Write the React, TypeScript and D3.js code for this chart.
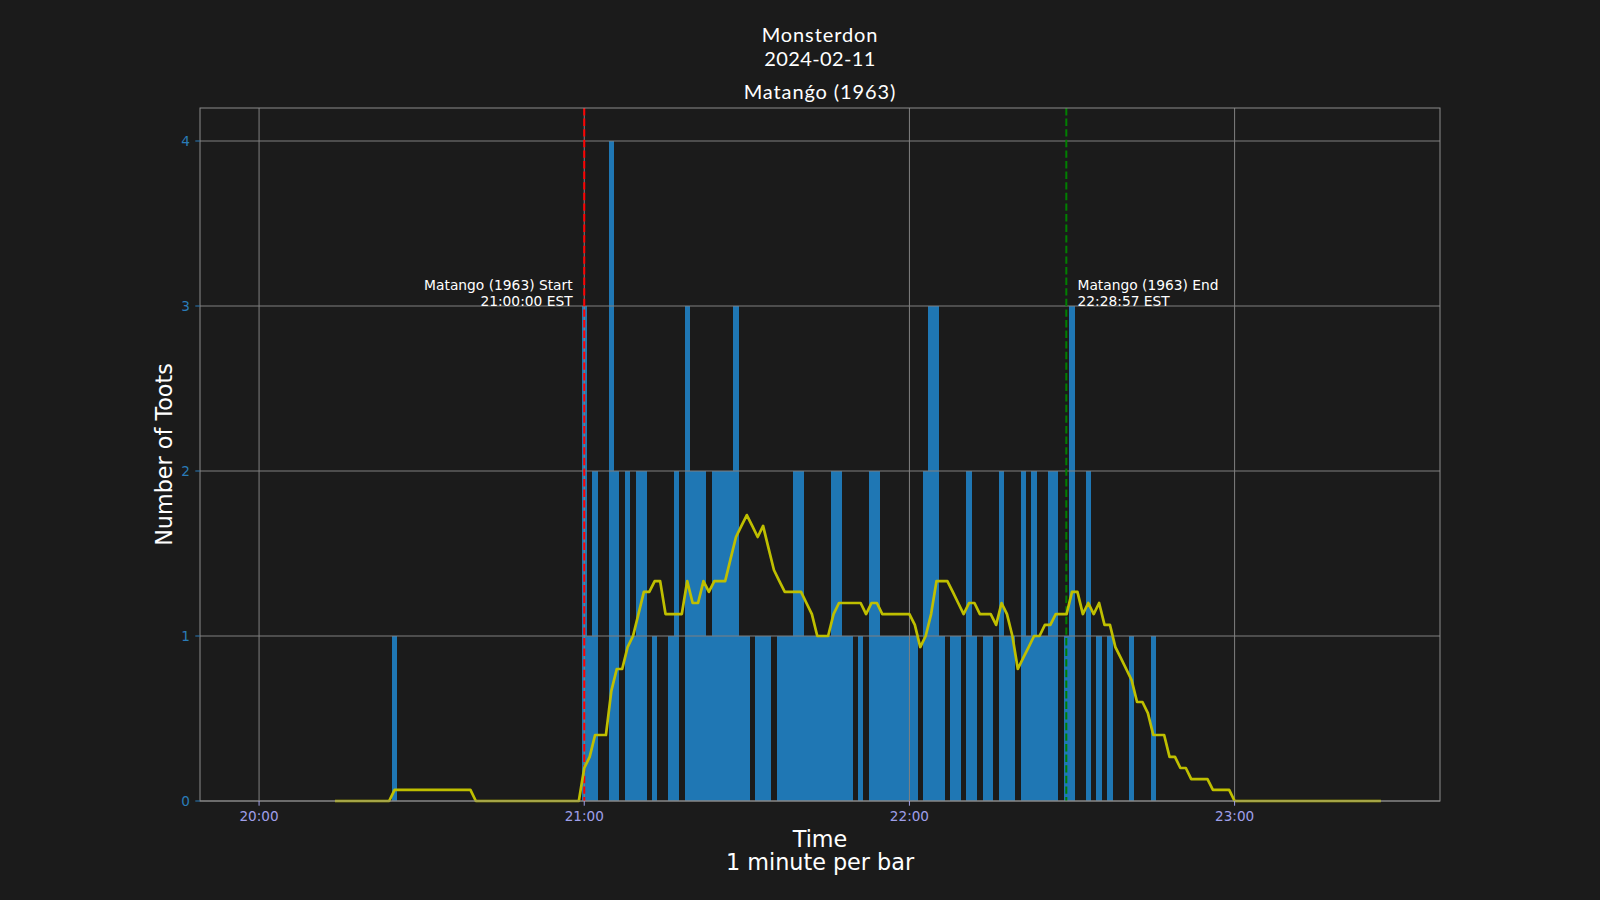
import React from "react";
import * as d3 from "d3";

// ---------- data ----------
const titleLines = ["Monsterdon", "2024-02-11", "Matanǵo (1963)"];

// minutes with at least one toot (1 minute per bar)
const tootTimes = [
  "20:25",
  "21:00", "21:01", "21:02", "21:05", "21:06", "21:08", "21:09", "21:10", "21:11", "21:13",
  "21:16", "21:17", "21:19", "21:20", "21:21", "21:22", "21:23", "21:24", "21:25", "21:26",
  "21:27", "21:28", "21:29", "21:30", "21:32", "21:33", "21:34", "21:36", "21:37", "21:38",
  "21:39", "21:40", "21:41", "21:42", "21:43", "21:44", "21:45", "21:46", "21:47", "21:48",
  "21:49", "21:51", "21:53", "21:54", "21:55", "21:56", "21:57", "21:58", "21:59", "22:00",
  "22:01", "22:03", "22:04", "22:05", "22:06", "22:08", "22:09", "22:11", "22:12", "22:14",
  "22:15", "22:17", "22:18", "22:19", "22:21", "22:22", "22:23", "22:24", "22:25", "22:26",
  "22:27", "22:29", "22:30", "22:33", "22:35", "22:37", "22:41", "22:45",
];
const tootCounts = [
  1,
  3, 1, 2, 4, 2, 2, 1, 2, 2, 1,
  1, 2, 3, 2, 2, 2, 1, 2, 2, 2,
  2, 3, 1, 1, 1, 1, 1, 1, 1, 1,
  2, 2, 1, 1, 1, 1, 1, 2, 2, 1,
  1, 1, 2, 2, 1, 1, 1, 1, 1, 1,
  1, 2, 3, 3, 1, 1, 1, 2, 1, 1,
  1, 2, 1, 1, 2, 1, 2, 1, 1, 2,
  2, 1, 3, 2, 1, 1, 1, 1,
];

// 15-minute moving average, one value per minute starting at 20:14
const avgStart = "20:14";
const rollingAvg = [
  0, 0, 0, 0, 0, 0, 0, 0, 0, 0, 0,
  0.067, 0.067, 0.067, 0.067, 0.067, 0.067, 0.067, 0.067, 0.067, 0.067, 0.067, 0.067, 0.067, 0.067, 0.067,
  0, 0, 0, 0, 0, 0, 0, 0, 0, 0, 0, 0, 0, 0, 0, 0, 0, 0, 0, 0,
  0.2, 0.267, 0.4, 0.4, 0.4, 0.667, 0.8, 0.8, 0.933, 1.0,
  1.133, 1.267, 1.267, 1.333, 1.333, 1.133, 1.133, 1.133, 1.133, 1.333,
  1.2, 1.2, 1.333, 1.267, 1.333, 1.333, 1.333, 1.467, 1.6, 1.667,
  1.733, 1.667, 1.6, 1.667, 1.533, 1.4, 1.333, 1.267, 1.267, 1.267,
  1.267, 1.2, 1.133, 1.0, 1.0, 1.0, 1.133, 1.2, 1.2, 1.2,
  1.2, 1.2, 1.133, 1.2, 1.2, 1.133, 1.133, 1.133, 1.133, 1.133,
  1.133, 1.067, 0.933, 1.0, 1.133, 1.333, 1.333, 1.333, 1.267, 1.2,
  1.133, 1.2, 1.2, 1.133, 1.133, 1.133, 1.067, 1.2, 1.133, 1.0,
  0.8, 0.867, 0.933, 1.0, 1.0, 1.067, 1.067, 1.133, 1.133, 1.133,
  1.267, 1.267, 1.133, 1.2, 1.133, 1.2, 1.067, 1.067, 0.933, 0.867,
  0.8, 0.733, 0.6, 0.6, 0.533, 0.4, 0.4, 0.4, 0.267, 0.267,
  0.2, 0.2, 0.133, 0.133, 0.133, 0.133, 0.067, 0.067, 0.067, 0.067,
  0, 0, 0, 0, 0, 0, 0, 0, 0, 0, 0, 0, 0, 0, 0, 0, 0, 0, 0, 0, 0, 0, 0, 0, 0, 0, 0, 0,
];

const xDomain = ["19:49:06", "23:37:54"];
const xTickLabels = ["20:00", "21:00", "22:00", "23:00"];
const yTicks = [0, 1, 2, 3, 4];

const events = [
  { time: "21:00:00", label: "Matango (1963) Start", sub: "21:00:00 EST", color: "#ff0000", side: "left" },
  { time: "22:28:57", label: "Matango (1963) End", sub: "22:28:57 EST", color: "#008000", side: "right" },
];

// ---------- helpers ----------
const parse = (s: string) => {
  const [h, m, sec] = s.split(":").map(Number);
  return new Date(2024, 1, 11, h, m, sec || 0);
};
const addMin = (d: Date, m: number) => new Date(d.getTime() + m * 60000);

const W = 1600;
const H = 900;
const L = 200, R = 1440, T = 108, B = 801;
const BG = "#1b1b1b";
const GRID = "#808080";
const FONT = "'DejaVu Sans', sans-serif";

export default function App() {
  const x = d3.scaleTime().domain(xDomain.map(parse)).range([L, R]);
  const y = d3.scaleLinear().domain([0, 4.2]).range([B, T]);

  const start = parse(avgStart);
  const avgPts: [Date, number][] = rollingAvg.map((v, i) => [addMin(start, i), v]);
  const line = d3
    .line<[Date, number]>()
    .x((d) => x(d[0]))
    .y((d) => y(d[1]));

  const cx = (L + R) / 2;

  return (
    <svg
      width={W}
      height={H}
      style={{ position: "absolute", left: 0, top: 0, display: "block", background: BG }}
    >
      <rect x={0} y={0} width={W} height={H} fill={BG} />

      {/* title */}
      <g fill="#ffffff" fontFamily="Lato, 'Open Sans', sans-serif" fontWeight={400} fontSize={20} textAnchor="middle">
        <text x={cx} y={41.5} letterSpacing={0.9}>{titleLines[0]}</text>
        <text x={cx} y={65.5} letterSpacing={0.4}>{titleLines[1]}</text>
        <text x={cx} y={98.5} letterSpacing={0.9}>{titleLines[2]}</text>
      </g>

      {/* bars */}
      <g fill="#1f77b4" shapeRendering="crispEdges">
        {tootTimes.map((t, i) => {
          const c = parse(t);
          const x0 = x(addMin(c, -0.5));
          const x1 = x(addMin(c, 0.5));
          return (
            <rect key={t} x={x0} y={y(tootCounts[i])} width={x1 - x0} height={y(0) - y(tootCounts[i])} />
          );
        })}
      </g>

      {/* grid */}
      <g stroke={GRID} strokeWidth={1}>
        {xTickLabels.map((t) => (
          <line key={t} x1={x(parse(t))} x2={x(parse(t))} y1={T} y2={B} />
        ))}
        {yTicks.map((v) => (
          <line key={v} x1={L} x2={R} y1={y(v)} y2={y(v)} />
        ))}
      </g>

      {/* event lines */}
      {events.map((e) => (
        <line
          key={e.time}
          x1={x(parse(e.time))}
          x2={x(parse(e.time))}
          y1={T}
          y2={B}
          stroke={e.color}
          strokeWidth={2}
          strokeDasharray="7.4 3.2"
        />
      ))}

      {/* moving average */}
      <path d={line(avgPts) || ""} fill="none" stroke="#bfbf00" strokeWidth={2.7} strokeLinejoin="round" />

      {/* annotations */}
      <g fill="#ffffff" fontFamily={FONT} fontSize={13.8}>
        {events.map((e) => {
          const ex = x(parse(e.time));
          const left = e.side === "left";
          return (
            <text key={e.time} textAnchor={left ? "end" : "start"}>
              <tspan x={left ? ex - 11.6 : ex + 11.2} y={y(3) - 16}>{e.label}</tspan>
              <tspan x={left ? ex - 11.6 : ex + 11.2} y={y(3) - 0.5}>{e.sub}</tspan>
            </text>
          );
        })}
      </g>

      {/* frame */}
      <rect x={L} y={T} width={R - L} height={B - T} fill="none" stroke="#8c8c8c" strokeWidth={1} />

      {/* x ticks */}
      <g fontFamily={FONT} fontSize={13.6} fill="#9f9fe8" textAnchor="middle">
        {xTickLabels.map((t) => (
          <g key={t}>
            <line x1={x(parse(t))} x2={x(parse(t))} y1={B} y2={B + 4.7} stroke="#9f9fe8" strokeWidth={1} />
            <text x={x(parse(t))} y={821}>{t}</text>
          </g>
        ))}
      </g>

      {/* y ticks */}
      <g fontFamily={FONT} fontSize={13.6} fill="#2a7bb8" textAnchor="end">
        {yTicks.map((v) => (
          <g key={v}>
            <line x1={L - 4.7} x2={L} y1={y(v)} y2={y(v)} stroke="#2a7bb8" strokeWidth={1} />
            <text x={190} y={y(v) + 5}>{v}</text>
          </g>
        ))}
      </g>

      {/* axis labels */}
      <g fill="#ffffff" fontFamily={FONT} fontSize={22.3} textAnchor="middle">
        <text x={cx} y={846.5}>Time</text>
        <text x={cx} y={869.5}>1 minute per bar</text>
        <text transform={`translate(172, ${(T + B) / 2}) rotate(-90)`}>Number of Toots</text>
      </g>
    </svg>
  );
}
